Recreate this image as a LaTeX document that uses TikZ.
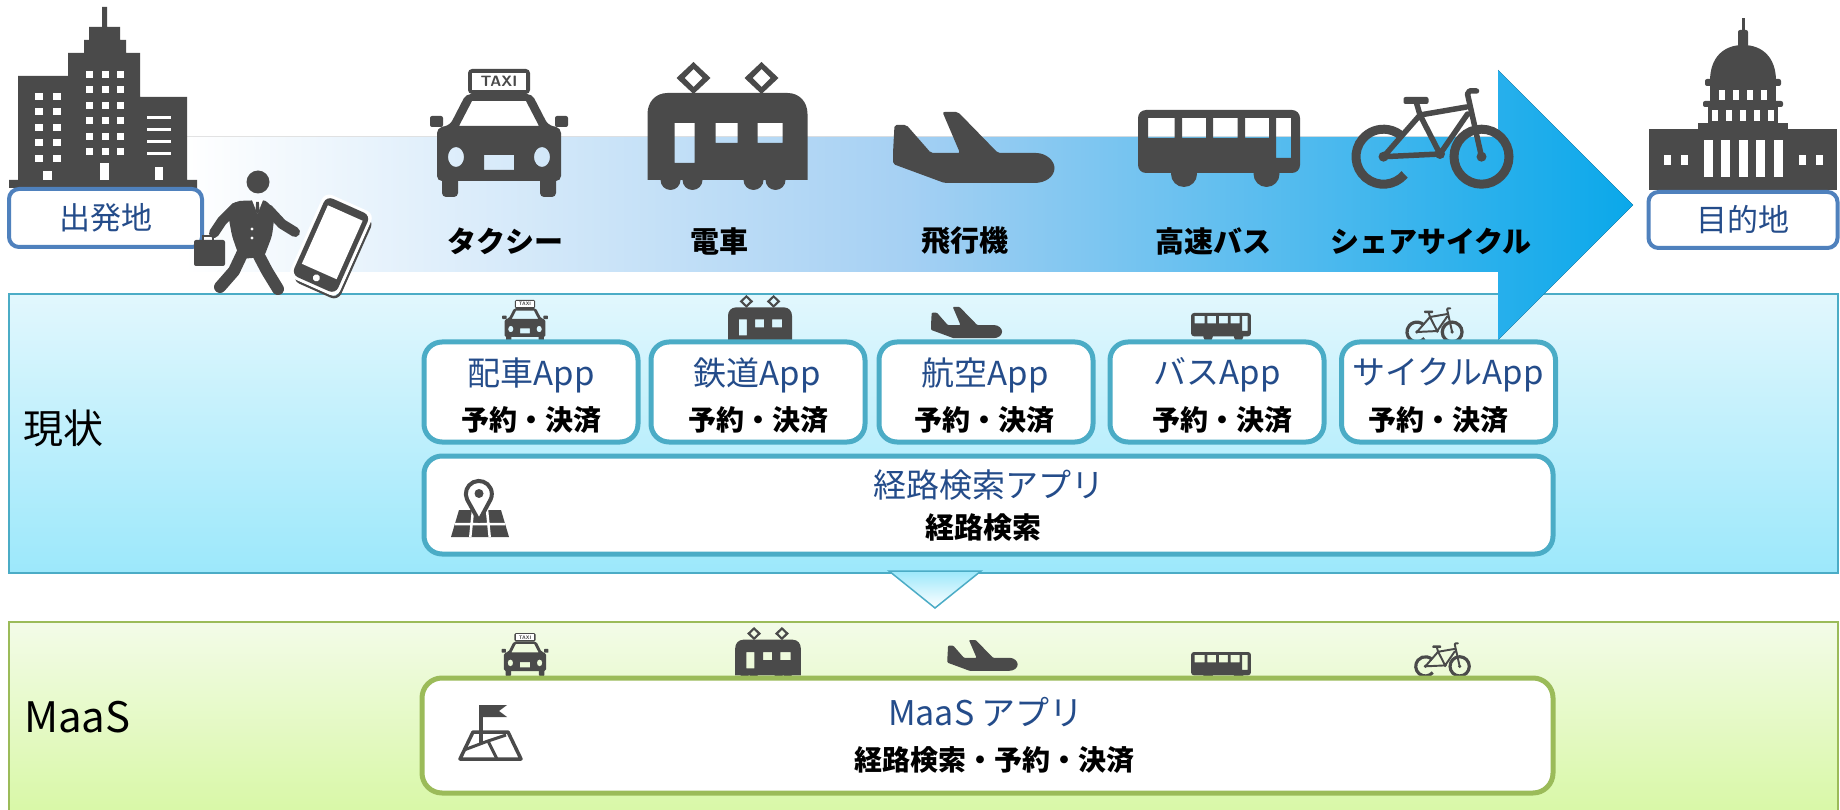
\documentclass[tikz,border=0pt]{standalone}
\usepackage{fontspec}
\newfontfamily\jp{Noto Sans CJK JP}
\usetikzlibrary{calc}

\definecolor{icongray}{RGB}{74,74,74}
\definecolor{tealline}{RGB}{75,172,198}
\definecolor{greenline}{RGB}{155,187,89}
\definecolor{boxblue}{RGB}{79,129,189}
\definecolor{textblue}{RGB}{36,76,138}
\definecolor{nowtop}{RGB}{226,247,253}
\definecolor{nowbot}{RGB}{156,232,251}
\definecolor{maastop}{RGB}{243,251,232}
\definecolor{maasbot}{RGB}{216,248,166}
\definecolor{flowmid}{RGB}{165,208,243}
\definecolor{flowend}{RGB}{10,168,234}

\tikzset{
  lbl/.style={inner sep=0pt, font=\jp\bfseries\fontsize{29pt}{29pt}\selectfont},
  apptitle/.style={inner sep=0pt, text=textblue, font=\jp\fontsize{33pt}{33pt}\selectfont},
  appsub/.style={inner sep=0pt, font=\jp\bfseries\fontsize{28pt}{28pt}\selectfont},
  rowlabel/.style={inner sep=0pt, anchor=west, font=\jp\fontsize{40pt}{40pt}\selectfont},
  placebox/.style={draw=boxblue, line width=4pt, fill=white, rounded corners=10pt, inner sep=0pt,
    text=textblue, font=\jp\fontsize{31pt}{31pt}\selectfont},
  appbox/.style={draw=tealline, line width=5pt, fill=white, rounded corners=18pt, inner sep=0pt,
    minimum width=214pt, minimum height=100pt},
  wideapp/.style={draw=tealline, line width=5pt, fill=white, rounded corners=18pt, inner sep=0pt},
  maasbox/.style={draw=greenline, line width=5pt, fill=white, rounded corners=20pt, inner sep=0pt},
  % taxi seen from the front; origin = top centre, argument = scale
  pics/taxi/.style={code={
    \begin{scope}[scale=#1]
      \fill[icongray, rounded corners=4*#1] (-31,0) rectangle (31,25);
      \fill[white] (-27,4) rectangle (27,21);
      \node[transform shape, inner sep=0pt, text=icongray,
        font=\sffamily\bfseries\fontsize{15pt}{15pt}\selectfont] (-sign) at (0,12.5) {TAXI};
      \fill[icongray, even odd rule, rounded corners=5*#1]
        (-33,25) -- (33,25) -- (49,56) -- (62,59) -- (62,112) -- (-62,112) -- (-62,59) -- (-49,56) -- cycle
        [sharp corners]
        (-27,32) -- (27,32) -- (40,57) -- (-40,57) -- cycle
        (-15,86) rectangle (15,101)
        (-43,88) ellipse [x radius=8, y radius=10]
        (43,88) ellipse [x radius=8, y radius=10];
      \fill[icongray, rounded corners=2*#1] (-69,47) rectangle (-56,58);
      \fill[icongray, rounded corners=2*#1] (56,47) rectangle (69,58);
      \fill[icongray, rounded corners=4*#1] (-57,100) rectangle (-41,128);
      \fill[icongray, rounded corners=4*#1] (41,100) rectangle (57,128);
    \end{scope}
  }},
  % tram with two pantographs
  pics/tram/.style={code={
    \begin{scope}[scale=#1]
      \foreach \px in {-34,34} {
        \fill[icongray, even odd rule]
          (\px,0) -- (\px+17,16) -- (\px,32) -- (\px-17,16) -- cycle
          (\px,7) -- (\px+9,16) -- (\px,25) -- (\px-9,16) -- cycle;
      }
      \fill[icongray, even odd rule]
        (-80,118) -- (-80,52) .. controls (-80,40) and (-72,31) .. (-60,31) -- (60,31)
        .. controls (72,31) and (80,40) .. (80,52) -- (80,118) -- cycle
        (-53,61) rectangle (-33,101)
        (-12,61) rectangle (10,81)
        (30,61) rectangle (55,81);
      \foreach \wx in {-57,-35,26,48} { \fill[icongray] (\wx,118) circle [radius=10]; }
    \end{scope}
  }},
  % aeroplane in side view, heading right
  pics/plane/.style={code={
    \begin{scope}[scale=#1]
      \fill[icongray, rounded corners=2*#1]
        (-78,13) -- (-66,13) -- (-41.5,41) -- (-12.5,41) -- (-30,0) -- (-14.5,0) -- (25.5,41) -- (61.5,41)
        [sharp corners] .. controls (74,41) and (82,49) .. (82,56) .. controls (82,64) and (74,71) .. (61.5,71)
        [rounded corners=2*#1] -- (-28,71) -- (-79.5,52) -- (-79.5,41) -- cycle;
    \end{scope}
  }},
  % coach in side view
  pics/coach/.style={code={
    \begin{scope}[scale=#1]
      \fill[icongray, even odd rule] [rounded corners=8*#1] (-81,0) rectangle (81,63)
        [sharp corners]
        (-71,8) rectangle (-44.5,28)
        (-37,8) rectangle (-13,28)
        (-6,8) rectangle (18.5,28)
        (26,8) rectangle (50,28)
        (57,8) rectangle (72,48);
      \fill[icongray] (-35,64) circle [radius=13];
      \fill[icongray] (47.5,64) circle [radius=13];
    \end{scope}
  }},
  % bicycle
  pics/bicycle/.style={code={
    \begin{scope}[scale=#1]
      \draw[icongray, line width=9*#1] (-49,66.7) ++(40:27.5) arc [start angle=40, end angle=315, radius=27.5];
      \draw[icongray, line width=9*#1] (49,66.7) circle [radius=27.5];
      \fill[icongray] (-49,66.7) circle [radius=5];
      \fill[icongray] (49,66.7) circle [radius=5];
      \draw[icongray, line width=5.5*#1, line join=round, line cap=round]
        (-49,66.7) -- (-12.5,25) -- (34,17)
        (-16,13) -- (-12.5,25) -- (7.5,64) -- (-49,66.7)
        (7.5,64) -- (35,24)
        (35,4) -- (49,66.7)
        (35,4) -- (37,1) -- (44,1);
      \fill[icongray] (7.5,64) circle [radius=5];
      \fill[icongray, rounded corners=2*#1] (-29,7) rectangle (-4,14);
    \end{scope}
  }},
}

\begin{document}
\begin{tikzpicture}[x=1pt, y=-1pt]
\useasboundingbox (0,0) rectangle (1840,810);
\fill[white] (0,0) rectangle (1840,810);

% ---------- the two comparison panels
\draw[draw=tealline, line width=2pt, top color=nowtop, bottom color=nowbot] (9,294) rectangle (1838,573);
\draw[draw=greenline, line width=2pt, top color=maastop, bottom color=maasbot] (9,622) rectangle (1838,814);

% ---------- journey arrow
\fill[left color=white, right color=flowend, middle color=flowmid]
  (185,137) -- (1498,137) -- (1498,70) -- (1633,205) -- (1498,340) -- (1498,272) -- (185,272) -- cycle;

% ---------- office building (origin)
\fill[icongray] (9,188) -- (9,180) -- (18,180) -- (18,76) -- (68,76) -- (68,53) -- (84,53) -- (84,40)
  -- (89,40) -- (89,27) -- (102,27) -- (102,7) -- (107,7) -- (107,27) -- (120,27) -- (120,40)
  -- (126,40) -- (126,53) -- (140,53) -- (140,97) -- (187,97) -- (187,180) -- (197,180) -- (197,188) -- cycle;
\foreach \yy in {93,108,124,139,155} {
  \fill[white] (35,\yy) rectangle ++(8,7.5);
  \fill[white] (53,\yy) rectangle ++(8,7.5);
}
\foreach \xx in {86,101.5,117} \foreach \yy in {71,86,102,117,133,148} {
  \fill[white] (\xx,\yy) rectangle ++(7,7);
}
\foreach \yy in {116,128,140,152} { \fill[white] (147,\yy) rectangle ++(24,3.5); }
\fill[white] (43,171) rectangle (52,180);
\fill[white] (100,163) rectangle (109,180);
\fill[white] (155,167) rectangle (163,180);
\node[placebox, minimum width=193pt, minimum height=58pt] (origin) at (105.5,218) {出発地};

% ---------- walking commuter with briefcase
\fill[icongray] (258,182) circle [radius=11.5];
\fill[icongray, rounded corners=4pt] (236,201) -- (266,200) -- (275,212) -- (272,236) -- (264,257)
  -- (240,259) -- (232,236) -- (228,214) -- cycle;
\fill[white] (252,200) -- (263,200) -- (257.5,214) -- cycle;
\fill[icongray] (256.1,202) -- (258.9,202) -- (259.5,211) -- (257.5,214) -- (255.5,211) -- cycle;
\fill[white] (252,229) circle [radius=1.7];
\fill[white] (252,238) circle [radius=1.7];
\draw[icongray, line width=10pt, line cap=round, line join=round] (236,207) -- (222,221) -- (214,233);
\draw[icongray, line width=10pt, line cap=round, line join=round] (268,209) -- (282,224) -- (295,232);
\draw[icongray, line width=12pt, line cap=round, line join=round] (243,252) -- (234,271) -- (220,287);
\draw[icongray, line width=12pt, line cap=round, line join=round] (257,252) -- (267,271) -- (278,289);
\fill[icongray, rounded corners=2pt] (194,240) rectangle (225,266);
\draw[icongray, line width=2.5pt] (203,241) -- (203,236) -- (213,236) -- (213,241);

% ---------- smartphone
\begin{scope}[shift={(331,245)}, rotate=-24]
  \draw[icongray, line width=2.5pt, rounded corners=7pt] (-20,-39) rectangle (28,47);
  \fill[white, rounded corners=8pt] (-27,-46) rectangle (27,46);
  \fill[icongray, rounded corners=7pt] (-24,-43) rectangle (24,43);
  \fill[white] (-19,-35) rectangle (19,29);
  \fill[white] (0,36) circle [radius=3.5];
\end{scope}

% ---------- domed hall (destination)
\fill[icongray] (1741.5,18) rectangle (1744.5,32);
\fill[icongray, rounded corners=2pt] (1738,30) rectangle (1748,47);
\fill[icongray] (1710,81) .. controls (1710,57) and (1724,45) .. (1743,45) .. controls (1762,45) and (1776,57) .. (1776,81) -- cycle;
\fill[icongray, rounded corners=2pt] (1705,79) rectangle (1781,86);
\fill[icongray] (1710,86) rectangle (1776,102);
\fill[icongray, rounded corners=2pt] (1703,101) rectangle (1783,107);
\fill[icongray] (1708,107) rectangle (1778,124);
\fill[icongray] (1698,123) rectangle (1788,130);
\fill[icongray] (1649,129) rectangle (1837,190);
\foreach \dx in {-21,-7,7,21} { \fill[white] (1743+\dx-3,90) rectangle ++(6,10); }
\foreach \dx in {-28,-14,0,14,28} { \fill[white] (1743+\dx-3,110) rectangle ++(6,11); }
\foreach \dx in {-35,-17.5,0,17.5,35} { \fill[white] (1743+\dx-4.5,140) rectangle ++(9,37); }
\foreach \dx in {-76,-59,59,76} { \fill[white] (1743+\dx-3.5,155) rectangle ++(7,10); }
\node[placebox, minimum width=189pt, minimum height=56pt] (goal) at (1743,220) {目的地};

% ---------- modes of transport along the journey
\pic (taxiBig) at (499,69) {taxi=1};
\pic (tramBig) at (727.5,62) {tram=1};
\pic (planeBig) at (972.5,112) {plane=1};
\pic (coachBig) at (1219,110) {coach=1};
\pic (bikeBig) at (1432.5,90) {bicycle=1};

\node[lbl] (lblTaxi) at (505,241) {タクシー};
\node[lbl] (lblTram) at (719,241) {電車};
\node[lbl] (lblPlane) at (965,241) {飛行機};
\node[lbl] (lblCoach) at (1213,241) {高速バス};
\node[lbl] (lblBike) at (1431,241) {シェアサイクル};

% ---------- current situation: one app per operator
\node[rowlabel] (rowNow) at (23,428) {現状};

\pic (taxiNow) at (525,300) {taxi=0.33};
\pic (tramNow) at (760,295) {tram=0.40};
\pic (planeNow) at (966,307) {plane=0.44};
\pic (coachNow) at (1221,313) {coach=0.37};
\pic (bikeNow) at (1434.5,308) {bicycle=0.36};

\node[appbox] (appTaxi) at (531,392) {};
\node[appbox] (appTram) at (758,392) {};
\node[appbox] (appPlane) at (986,392) {};
\node[appbox] (appCoach) at (1217,392) {};
\node[appbox] (appBike) at (1448.5,392) {};

\node[apptitle] (tTaxi) at (531,375) {配車App};
\node[apptitle] (tTram) at (757,375) {鉄道App};
\node[apptitle] (tPlane) at (985,375) {航空App};
\node[apptitle] (tCoach) at (1217,375) {バスApp};
\node[apptitle] (tBike) at (1448,375) {サイクルApp};
\node[appsub] (sTaxi) at (531,420) {予約・決済};
\node[appsub] (sTram) at (758,420) {予約・決済};
\node[appsub] (sPlane) at (984,420) {予約・決済};
\node[appsub] (sCoach) at (1222,420) {予約・決済};
\node[appsub] (sBike) at (1438,420) {予約・決済};

\node[wideapp, minimum width=1129pt, minimum height=98pt] (routeApp) at (988.5,505) {};
\node[apptitle] (tRoute) at (989,485) {経路検索アプリ};
\node[appsub, font=\jp\bfseries\fontsize{29pt}{29pt}\selectfont] (sRoute) at (983,528) {経路検索};

% map with location pin
\fill[icongray] (451,537) -- (509,537) -- (501,510) -- (459,510) -- cycle;
\draw[white, line width=2.5pt] (455,524) -- (505,524) (473,510) -- (470.3,537) (487,510) -- (489.7,537);
\draw[icongray, line width=4pt, fill=white, line join=round]
  (479,521) -- (467.1,499.5) arc [start angle=154.6, end angle=385.4, radius=13] -- cycle;
\fill[icongray] (479,493.5) circle [radius=4.5];

% ---------- transition marker
\draw[tealline, line width=1.5pt, top color=nowbot, bottom color=white] (889,571) -- (981,571) -- (935,608) -- cycle;

% ---------- MaaS: one app for everything
\node[rowlabel, font=\jp\fontsize{42pt}{42pt}\selectfont] (rowMaas) at (24,717) {MaaS};

\pic (taxiMaas) at (525,633) {taxi=0.34};
\pic (tramMaas) at (768,627) {tram=0.41};
\pic (planeMaas) at (982,640) {plane=0.435};
\pic (coachMaas) at (1221,652) {coach=0.37};
\pic (bikeMaas) at (1442.5,643) {bicycle=0.35};

\node[maasbox, minimum width=1131pt, minimum height=115pt] (maasApp) at (987.5,735.5) {};
\node[apptitle, font=\jp\fontsize{34pt}{34pt}\selectfont] (tMaas) at (986,712) {MaaS アプリ};
\node[appsub] (sMaas) at (994,760) {経路検索・予約・決済};

% map with flag
\draw[icongray, line width=3.5pt, fill=white, line join=round] (460,759) -- (521,759) -- (508,732) -- (473,732) -- cycle;
\draw[icongray, line width=3pt, line join=round] (464,750) -- (488,741) -- (497,759) (488,741) -- (506,735);
\draw[icongray, line width=4pt] (481,705) -- (481,744);
\fill[icongray] (481,705) -- (507,705) -- (499,711) -- (507,717) -- (481,717) -- cycle;

\end{tikzpicture}
\end{document}
